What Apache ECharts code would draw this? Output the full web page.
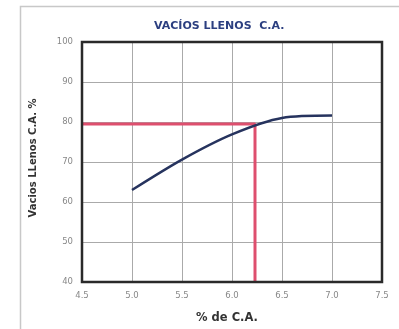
<!DOCTYPE html>
<html><head><meta charset="utf-8">
<script src="https://cdn.jsdelivr.net/npm/echarts@6/dist/echarts.min.js"></script>
<style>html,body{margin:0;padding:0;background:#fff}#c{width:399px;height:329px}</style>
</head><body><div id="c"></div>
<script>
const asphaltPct = [5.0, 5.5, 6.0, 6.5, 7.0];
const vfaValues = [63.0, 70.6, 76.9, 81.0, 81.6];
const designPct = 6.23;
const designVfa = 79.5;
const xTicks = ['4.5','5.0','5.5','6.0','6.5','7.0','7.5'];
const yTicks = [40, 50, 60, 70, 80, 90, 100];
const titleText = 'VACÍOS LLENOS  C.A.';
const xName = '% de C.A.';
const yName = 'Vacios LLenos C.A. %';

const chart = echarts.init(document.getElementById('c'), null, {renderer: 'canvas'});
const curve = asphaltPct.map((x, i) => [x, vfaValues[i]]);
const guide = [[4.5, designVfa], [designPct, designVfa], [designPct, 40]];
chart.setOption({
  animation: false,
  backgroundColor: '#fff',
  graphic: [{
    type: 'rect', shape: {x: 20.5, y: 6.5, width: 390, height: 330},
    style: {fill: 'none', stroke: '#c8c8c8', lineWidth: 1.5}, z: -1
  }],
  title: {
    text: titleText, left: 149, top: 16,
    textStyle: {fontFamily: 'DejaVu Sans', fontSize: 11, fontWeight: 'bold', color: '#2c3f80'}
  },
  grid: {left: 82, top: 42, width: 300, height: 244, show: true, borderColor: '#2a2a2a', borderWidth: 2.5, backgroundColor: 'transparent', z: 5},
  xAxis: {
    type: 'value', min: 4.5, max: 7.5, interval: 0.5,
    name: xName, nameLocation: 'middle', nameGap: 30,
    nameTextStyle: {fontFamily: 'DejaVu Sans', fontSize: 11.5, fontWeight: 'bold', color: '#333', padding: [0, 10, 0, 0]},
    axisLine: {show: false}, axisTick: {show: false},
    axisLabel: {formatter: v => xTicks[Math.round((v - 4.5) / 0.5)], fontFamily: 'DejaVu Sans', fontSize: 8.5, color: '#888', margin: 9},
    splitLine: {show: true, lineStyle: {color: '#aaa', width: 1}}
  },
  yAxis: {
    type: 'value', min: 40, max: 100, interval: 10,
    name: yName, nameLocation: 'middle', nameGap: 44, nameRotate: 90,
    nameTextStyle: {fontFamily: 'DejaVu Sans', fontSize: 10, fontWeight: 'bold', color: '#333', padding: [0, 0, 0, 8]},
    axisLine: {show: false}, axisTick: {show: false},
    axisLabel: {formatter: v => yTicks.includes(v) ? String(v) : '', fontFamily: 'DejaVu Sans', fontSize: 8.5, color: '#888', margin: 9},
    splitLine: {show: true, lineStyle: {color: '#aaa', width: 1}}
  },
  series: [{
    type: 'line', data: guide, showSymbol: false, z: 3,
    lineStyle: {color: '#de4f6e', width: 3}
  }, {
    type: 'line', data: curve, smooth: 0.3, showSymbol: false, z: 4,
    lineStyle: {color: '#26335e', width: 2.5}
  }]
});
</script></body></html>
